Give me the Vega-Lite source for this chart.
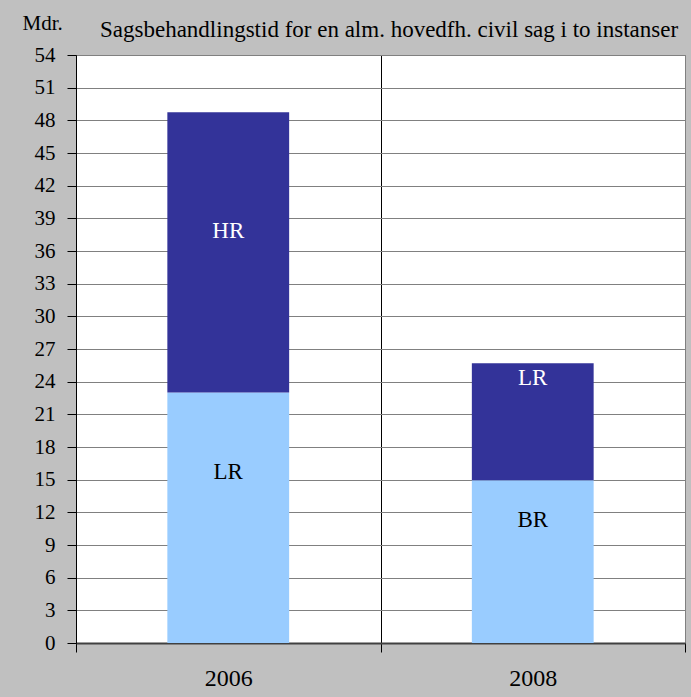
{
  "$schema": "https://vega.github.io/schema/vega-lite/v6.json",
  "width": 609,
  "height": 588,
  "autosize": {"type": "none"},
  "padding": {"left": 76, "right": 6, "top": 55, "bottom": 54},
  "background": "#c0c0c0",
  "config": {
    "view": {"stroke": "#808080", "fill": "#ffffff"},
    "font": "Liberation Serif, serif",
    "axis": {
      "labelFont": "Liberation Serif, serif",
      "titleFont": "Liberation Serif, serif"
    },
    "axisX": {
      "labelAngle": 0,
      "labelFontSize": 24,
      "labelColor": "#000000",
      "labelPadding": 14,
      "tickBand": "extent",
      "tickSize": 9,
      "tickColor": "#000000",
      "domainColor": "#404040",
      "domainWidth": 2,
      "grid": true,
      "gridWidth": 1
    }
  },
  "title": {
    "text": "Sagsbehandlingstid for en alm. hovedfh. civil sag i to instanser",
    "anchor": "start",
    "frame": "group",
    "dx": 24,
    "dy": 48,
    "offset": 0,
    "baseline": "alphabetic",
    "font": "Liberation Serif, serif",
    "fontSize": 23,
    "fontWeight": "normal",
    "color": "#000000"
  },
  "datasets": {
    "bars": [
      {"year": "2006", "instance": "LR", "level": 1, "value": 23.0},
      {"year": "2006", "instance": "HR", "level": 2, "value": 25.75},
      {"year": "2008", "instance": "BR", "level": 1, "value": 14.95},
      {"year": "2008", "instance": "LR", "level": 2, "value": 10.75}
    ],
    "labels": [
      {"year": "2006", "label": "HR", "tone": "dark", "pos": 37.8},
      {"year": "2006", "label": "LR", "tone": "light", "pos": 15.7},
      {"year": "2008", "label": "LR", "tone": "dark", "pos": 24.3},
      {"year": "2008", "label": "BR", "tone": "light", "pos": 11.3}
    ]
  },
  "layer": [
    {
      "data": {"name": "bars"},
      "mark": {"type": "bar", "width": {"band": 0.4}},
      "encoding": {
        "x": {
          "field": "year",
          "type": "nominal",
          "scale": {"paddingInner": 0, "paddingOuter": 0},
          "axis": {
            "title": null,
            "gridColor": {"condition": {"test": "datum.index === 1", "value": "#808080"}, "value": "#000000"}
          }
        },
        "y": {
          "field": "value",
          "type": "quantitative",
          "stack": "zero",
          "scale": {"domain": [0, 54], "nice": false},
          "axis": {
            "title": "Mdr.",
            "values": [0, 3, 6, 9, 12, 15, 18, 21, 24, 27, 30, 33, 36, 39, 42, 45, 48, 51, 54],
            "labelOverlap": false,
            "titleAngle": 0,
            "titleX": -54,
            "titleY": -26,
            "titleAlign": "left",
            "titleBaseline": "alphabetic",
            "titleFont": "Liberation Serif, serif",
            "titleFontSize": 21,
            "titleFontWeight": "normal",
            "titleColor": "#000000",
            "labelFont": "Liberation Serif, serif",
            "labelFontSize": 21,
            "labelColor": "#000000",
            "labelPadding": 12,
            "tickSize": 9,
            "tickColor": "#000000",
            "domainColor": "#000000",
            "grid": true,
            "gridColor": "#808080",
            "gridWidth": 1,
            "gridOpacity": 1
          }
        },
        "color": {
          "field": "level",
          "type": "nominal",
          "scale": {"domain": [1, 2], "range": ["#99ccff", "#333399"]},
          "legend": null
        },
        "order": {"field": "level", "type": "quantitative", "sort": "ascending"}
      }
    },
    {
      "data": {"name": "labels"},
      "mark": {"type": "text", "font": "Liberation Serif, serif", "fontSize": 23, "baseline": "middle", "align": "center"},
      "encoding": {
        "x": {
          "field": "year",
          "type": "nominal",
          "axis": {
            "title": null,
            "gridColor": {"condition": {"test": "datum.index === 1", "value": "#808080"}, "value": "#000000"}
          }
        },
        "y": {
          "field": "pos",
          "type": "quantitative",
          "axis": {
            "title": "Mdr.",
            "values": [0, 3, 6, 9, 12, 15, 18, 21, 24, 27, 30, 33, 36, 39, 42, 45, 48, 51, 54],
            "labelOverlap": false,
            "titleAngle": 0,
            "titleX": -54,
            "titleY": -26,
            "titleAlign": "left",
            "titleBaseline": "alphabetic",
            "titleFont": "Liberation Serif, serif",
            "titleFontSize": 21,
            "titleFontWeight": "normal",
            "titleColor": "#000000",
            "labelFont": "Liberation Serif, serif",
            "labelFontSize": 21,
            "labelColor": "#000000",
            "labelPadding": 12,
            "tickSize": 9,
            "tickColor": "#000000",
            "domainColor": "#000000",
            "grid": true,
            "gridColor": "#808080",
            "gridWidth": 1,
            "gridOpacity": 1
          }
        },
        "text": {"field": "label"},
        "color": {"condition": {"test": "datum.tone === 'dark'", "value": "#ffffff"}, "value": "#000000"}
      }
    }
  ]
}
